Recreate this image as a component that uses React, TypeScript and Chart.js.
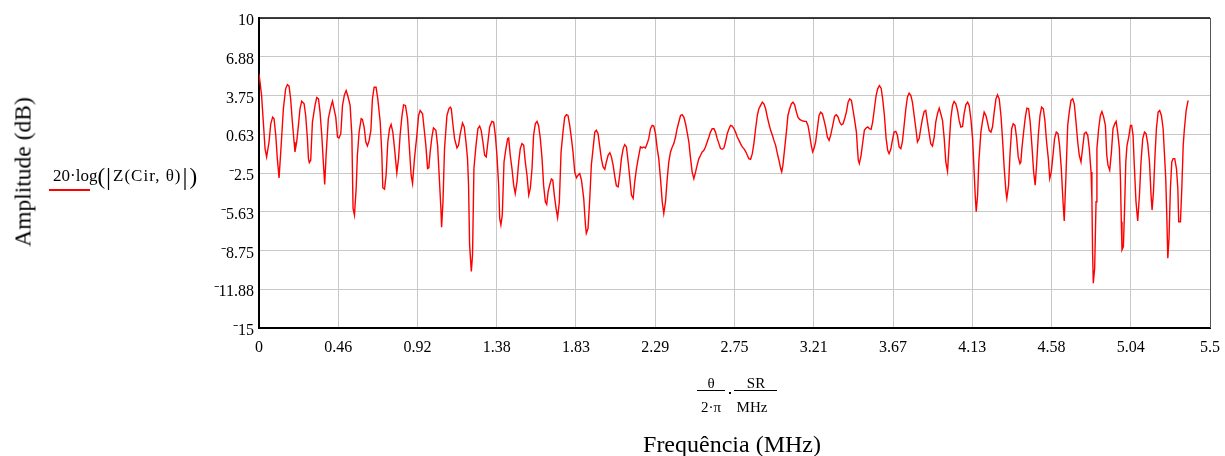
import React, { useEffect, useRef } from "react";
import { Chart, registerables } from "chart.js";

Chart.register(...registerables);

// Frequency (MHz) of each sample
const freqs = [
  0.0, 0.015, 0.025, 0.035, 0.044, 0.058, 0.068, 0.079, 0.087, 0.097, 0.106, 0.116, 0.127, 0.141, 0.154, 0.164, 0.174, 0.183, 0.193, 0.203,
  0.208, 0.218, 0.228, 0.237, 0.247, 0.261, 0.27, 0.28, 0.286, 0.291, 0.299, 0.309, 0.324, 0.334, 0.344, 0.353, 0.363, 0.372, 0.38, 0.388,
  0.401, 0.415, 0.425, 0.434, 0.444, 0.454, 0.463, 0.473, 0.483, 0.494, 0.504, 0.513, 0.527, 0.537, 0.544, 0.552,
  0.562, 0.569, 0.579, 0.591, 0.598, 0.608, 0.618, 0.627, 0.637, 0.647, 0.656, 0.666, 0.677, 0.687, 0.701, 0.71, 0.716, 0.726, 0.735, 0.745,
  0.755, 0.764, 0.774, 0.784, 0.797, 0.807, 0.816, 0.826, 0.836, 0.847, 0.859, 0.87, 0.88, 0.888, 0.899, 0.913, 0.923, 0.932, 0.946, 0.955,
  0.965, 0.975, 0.982, 0.99, 1.0, 1.009, 1.023, 1.033, 1.042, 1.052, 1.056, 1.064, 1.073, 1.087, 1.098, 1.106,
  1.112, 1.121, 1.131, 1.145, 1.154, 1.164, 1.177, 1.187, 1.197, 1.206, 1.212, 1.218, 1.228, 1.235, 1.243, 1.255, 1.266, 1.276, 1.285, 1.295,
  1.305, 1.314, 1.324, 1.334, 1.347, 1.357, 1.367, 1.376, 1.386, 1.392, 1.399, 1.407, 1.417, 1.428, 1.438, 1.444, 1.453, 1.463, 1.473, 1.482,
  1.492, 1.502, 1.511, 1.521, 1.531, 1.54, 1.55, 1.56, 1.569, 1.579, 1.588, 1.598, 1.608, 1.617, 1.627, 1.637, 1.646, 1.656,
  1.664, 1.672, 1.681, 1.691, 1.699, 1.708, 1.718, 1.727, 1.737, 1.747, 1.758, 1.768, 1.778, 1.787, 1.797, 1.807, 1.816, 1.826, 1.836, 1.845,
  1.855, 1.865, 1.878, 1.888, 1.893, 1.903, 1.913, 1.922, 1.932, 1.942, 1.951, 1.961, 1.971, 1.98, 1.99, 2.0, 2.009, 2.019, 2.029, 2.038,
  2.048, 2.058, 2.067, 2.077, 2.086, 2.096, 2.106, 2.115, 2.125, 2.135, 2.144, 2.154, 2.164, 2.173, 2.183, 2.193, 2.202,
  2.206, 2.216, 2.225, 2.235, 2.245, 2.254, 2.264, 2.274, 2.283, 2.293, 2.303, 2.312, 2.322, 2.332, 2.341, 2.351, 2.361, 2.37, 2.38, 2.39,
  2.399, 2.409, 2.418, 2.428, 2.438, 2.447, 2.457, 2.467, 2.476, 2.486, 2.496, 2.505, 2.515, 2.525, 2.534, 2.544, 2.554, 2.563, 2.573, 2.582,
  2.592, 2.602, 2.611, 2.621, 2.631, 2.64, 2.65, 2.66, 2.669, 2.679, 2.689, 2.698, 2.708, 2.718, 2.727, 2.737, 2.747, 2.756,
  2.766, 2.776, 2.785, 2.795, 2.804, 2.814, 2.824, 2.833, 2.843, 2.853, 2.862, 2.872, 2.882, 2.891, 2.901, 2.911, 2.92, 2.93, 2.94, 2.949,
  2.959, 2.969, 2.978, 2.988, 2.998, 3.007, 3.017, 3.023, 3.03, 3.04, 3.05, 3.059, 3.069, 3.079, 3.088, 3.098, 3.108, 3.117, 3.127, 3.137,
  3.146, 3.156, 3.165, 3.175, 3.185, 3.194, 3.202, 3.21, 3.219, 3.229, 3.239, 3.248, 3.258, 3.268, 3.277, 3.287, 3.297, 3.306,
  3.32, 3.329, 3.339, 3.349, 3.358, 3.368, 3.378, 3.387, 3.397, 3.407, 3.416, 3.426, 3.436, 3.445, 3.455, 3.461, 3.466, 3.472, 3.482, 3.492,
  3.501, 3.511, 3.521, 3.53, 3.54, 3.549, 3.559, 3.569, 3.578, 3.588, 3.598, 3.607, 3.617, 3.627, 3.636, 3.644, 3.654, 3.663, 3.673, 3.683,
  3.692, 3.702, 3.712, 3.721, 3.731, 3.741, 3.75, 3.76, 3.77, 3.779, 3.789, 3.799, 3.808, 3.818, 3.827, 3.837, 3.847, 3.856,
  3.866, 3.876, 3.885, 3.895, 3.905, 3.914, 3.924, 3.934, 3.943, 3.953, 3.963, 3.972, 3.982, 3.991, 4.001, 4.011, 4.02, 4.03, 4.04, 4.049,
  4.059, 4.069, 4.078, 4.088, 4.098, 4.107, 4.117, 4.127, 4.136, 4.142, 4.148, 4.156, 4.163, 4.175, 4.185, 4.194, 4.204, 4.213, 4.223, 4.233,
  4.242, 4.252, 4.262, 4.271, 4.281, 4.291, 4.3, 4.31, 4.32, 4.325, 4.335, 4.343, 4.353, 4.362, 4.372, 4.381, 4.391, 4.401, 4.406,
  4.412, 4.422, 4.432, 4.441, 4.451, 4.46, 4.47, 4.48, 4.489, 4.497, 4.507, 4.517, 4.526, 4.536, 4.545, 4.555, 4.565, 4.573, 4.582, 4.592,
  4.601, 4.611, 4.621, 4.63, 4.64, 4.65, 4.657, 4.667, 4.677, 4.686, 4.696, 4.706, 4.715, 4.725, 4.735, 4.744, 4.754, 4.764, 4.773, 4.783,
  4.793, 4.802, 4.812, 4.817, 4.821, 4.825, 4.833, 4.841, 4.846, 4.856, 4.866, 4.875, 4.885, 4.895, 4.903, 4.91, 4.92, 4.93, 4.939, 4.949, 4.957,
  4.966, 4.976, 4.982, 4.987, 4.991, 4.999, 5.005, 5.013, 5.02, 5.03, 5.04, 5.047, 5.055, 5.063, 5.072, 5.082, 5.092, 5.101, 5.111, 5.121,
  5.13, 5.14, 5.15, 5.159, 5.165, 5.173, 5.182, 5.19, 5.2, 5.209, 5.219, 5.229, 5.236, 5.244, 5.25, 5.256, 5.263, 5.271, 5.279, 5.287,
  5.296, 5.306, 5.314, 5.319, 5.329, 5.337, 5.345, 5.352, 5.362, 5.372, 5.375,
];

// Amplitude (dB) of each sample: 20·log(|Z(Cir, θ)|)
const amps = [
  5.49, 3.75, 1.61, -0.53, -1.2, 0.0, 1.47, 2.01, 1.88, 0.54, -1.34, -2.89, -0.53, 2.68, 4.29, 4.63, 4.5, 3.48, 1.61, 0.0,
  -0.8, 0.0, 1.34, 2.68, 3.29, 3.08, 2.14, 0.27, -1.34, -1.66, -1.47, 1.61, 2.95, 3.59, 3.48, 2.41, 0.54, -1.61, -3.43, -1.07,
  1.88, 2.81, 3.29, 2.68, 2.01, 0.4, 0.32, 0.67, 2.95, 3.8, 4.15, 3.75, 2.95, 0.54, -5.36, -5.89,
  -3.75, -1.07, 0.8, 1.88, 1.82, 1.21, 0.0, -0.32, 0.13, 0.94, 3.48, 4.42, 4.42, 3.48, 1.61, -0.8, -3.69, -3.8, -2.68, 0.0,
  1.07, 1.42, 0.8, -0.53, -2.49, -1.34, 0.54, 2.01, 3.0, 2.95, 1.88, -0.53, -2.68, -3.35, -1.34, 0.54, 2.14, 2.54, 2.28, 1.07,
  -0.27, -2.14, -2.09, -0.8, 0.4, 1.13, 0.94, -0.27, -2.68, -5.36, -6.88, -4.82, -0.53, 2.14, 2.68, 2.81,
  2.68, 1.47, 0.27, -0.48, -0.27, 0.67, 1.53, 1.21, 0.0, -1.34, -3.48, -8.3, -10.44, -9.1, -2.14, -0.27, 1.07, 1.29, 0.94, 0.0,
  -1.07, -1.2, 0.0, 1.21, 1.66, 1.61, 0.54, -1.07, -3.48, -6.16, -6.69, -5.89, -1.61, -0.53, 0.27, 0.32, -1.07, -2.14, -3.48, -4.15,
  -3.21, -1.61, -0.53, -0.13, -0.27, -1.61, -2.68, -4.28, -3.75, -2.14, 0.54, 1.47, 1.66, 1.34, 0.27, -1.34, -3.48, -4.82,
  -5.03, -4.02, -3.48, -2.99, -3.08, -4.28, -5.36, -6.1, -4.82, -0.8, 0.8, 2.01, 2.2, 2.14, 1.34, 0.27, -0.8, -2.41, -2.89, -2.68,
  -2.54, -3.08, -4.55, -6.69, -7.36, -6.96, -4.55, -1.87, -0.53, 0.8, 0.94, 0.67, -0.4, -1.34, -2.01, -2.2, -1.61, -1.07, -0.86, -1.2,
  -1.87, -2.81, -3.53, -3.61, -2.68, -1.34, -0.53, -0.21, -0.4, -1.61, -2.81, -4.28, -4.55, -3.21, -2.14, -1.34, -0.67,
  -0.4, -0.48, -0.4, -0.48, -0.13, 0.27, 1.07, 1.34, 1.29, 0.67, -0.53, -1.34, -2.95, -4.82, -5.76, -4.82, -2.95, -1.61, -0.8, -0.4,
  -0.13, 0.4, 1.07, 1.61, 2.14, 2.2, 2.01, 1.47, 0.8, 0.0, -1.34, -2.41, -2.95, -2.41, -1.87, -1.34, -1.07, -0.8, -0.67, -0.4,
  0.0, 0.4, 0.8, 1.07, 1.07, 0.8, 0.27, -0.13, -0.53, -0.59, -0.48, 0.0, 0.67, 1.07, 1.34, 1.29, 1.07, 0.8,
  0.4, 0.13, -0.13, -0.4, -0.53, -0.75, -1.07, -1.34, -1.39, -0.94, -0.13, 1.07, 2.14, 2.68, 2.95, 3.21, 3.08, 2.68, 2.01, 1.47,
  0.94, 0.54, 0.13, -0.27, -0.94, -1.47, -2.14, -2.41, -1.87, -0.53, 0.8, 2.14, 2.68, 3.08, 3.21, 3.0, 2.41, 2.01, 1.82, 1.74,
  1.69, 1.66, 1.66, 1.34, 0.54, -0.27, -0.8, -0.53, 0.0, 1.07, 2.14, 2.41, 2.28, 1.74, 1.21, 0.4, 0.13, 0.54,
  1.47, 2.09, 2.2, 2.01, 1.61, 1.39, 1.47, 1.88, 2.41, 3.21, 3.48, 3.35, 2.54, 1.74, 0.8, -0.53, -1.47, -1.74, -1.07, 0.0,
  0.94, 1.13, 1.21, 1.07, 1.02, 1.61, 2.68, 3.75, 4.29, 4.55, 4.34, 3.48, 2.14, 0.27, -0.67, -0.94, -0.59, 0.13, 0.8, 0.86,
  0.54, -0.4, -0.53, 0.0, 1.34, 2.68, 3.62, 3.94, 3.75, 3.21, 2.14, 1.07, 0.0, 0.27, 1.07, 1.88, 2.46, 2.54,
  1.61, 0.67, -0.13, -0.32, 0.4, 1.61, 2.28, 2.73, 2.28, 1.74, 0.27, -1.61, -2.36, -0.27, 1.88, 2.95, 3.27, 3.08, 2.54, 1.74,
  1.21, 1.26, 2.28, 3.0, 3.21, 2.95, 1.88, 0.27, -2.41, -4.28, -5.62, -4.28, -1.61, 0.8, 1.74, 2.41, 2.14, 1.61, 0.94, 0.8,
  1.21, 2.41, 3.48, 3.8, 3.48, 2.14, 0.27, -2.14, -4.02, -4.55, -3.48, -1.07, 1.07, 1.47, 1.34, 0.4, -1.2, -1.74, -1.61,
  -0.53, 0.8, 2.01, 2.73, 2.68, 1.61, -0.27, -2.41, -3.48, -1.87, 0.54, 2.14, 2.81, 2.68, 1.74, 0.0, -1.34, -2.95, -2.41, -1.07,
  0.27, 0.8, 0.67, -0.27, -2.14, -4.82, -6.37, -2.68, 1.34, 2.41, 3.35, 3.48, 3.08, 1.61, 0.0, -1.07, -1.61, -0.4, 0.67, 0.8,
  0.54, -0.53, -2.41, -4.6, -8.9, -11.38, -10.18, -4.82, -0.53, 1.07, 2.14, 2.46, 2.01, 1.34, -1.07, -1.87, -2.28, -0.8, 1.07, 1.47, 1.66,
  0.8, -0.53, -2.95, -6.43, -8.7, -8.44, -5.89, -1.61, -0.27, 0.4, 1.34, 1.34, 0.54, -2.14, -4.82, -6.37, -4.28, -1.61, 0.27, 0.8,
  0.67, -0.13, -1.61, -4.28, -5.49, -4.02, -1.07, 1.07, 2.41, 2.54, 2.14, 1.07, -0.8, -2.95, -5.89, -9.37, -7.76, -3.75, -1.61, -1.34,
  -1.34, -2.14, -3.75, -6.43, -6.43, -3.75, -0.27, 1.07, 2.54, 3.27, 3.35,
];

const xTickValues = [0, 0.45833, 0.91667, 1.375, 1.83333, 2.29167, 2.75, 3.20833, 3.66667, 4.125, 4.58333, 5.04167, 5.5];
const xTickLabels = ["0", "0.46", "0.92", "1.38", "1.83", "2.29", "2.75", "3.21", "3.67", "4.13", "4.58", "5.04", "5.5"];
const yTickValues = [-15, -11.875, -8.75, -5.625, -2.5, 0.625, 3.75, 6.875, 10];
const yTickLabels = ["\u207B15", "\u207B11.88", "\u207B8.75", "\u207B5.63", "\u207B2.5", "0.63", "3.75", "6.88", "10"];

const SERIF = "'Liberation Serif', 'Times New Roman', serif";

const framePlugin = {
  id: "frame",
  afterDraw(chart: any) {
    const { ctx, chartArea: a } = chart;
    ctx.save();
    ctx.strokeStyle = "#000";
    ctx.lineWidth = 1.5;
    ctx.beginPath();
    ctx.moveTo(a.left, a.top);
    ctx.lineTo(a.right, a.top);
    ctx.stroke();
    ctx.strokeStyle = "#555";
    ctx.lineWidth = 1;
    ctx.beginPath();
    ctx.moveTo(a.right + 0.5, a.top);
    ctx.lineTo(a.right + 0.5, a.bottom);
    ctx.stroke();
    ctx.restore();
  },
};

export default function App() {
  const canvasRef = useRef<HTMLCanvasElement | null>(null);

  useEffect(() => {
    const canvas = canvasRef.current;
    if (!canvas) return;
    const points = freqs.map((f, i) => ({ x: f, y: amps[i] }));
    const chart = new Chart(canvas, {
      type: "line",
      data: {
        datasets: [
          {
            label: "20·log(|Z(Cir, θ)|)",
            data: points,
            borderColor: "#ff0000",
            borderWidth: 1.4,
            pointRadius: 0,
            tension: 0,
            fill: false,
          },
        ],
      },
      options: {
        animation: false,
        responsive: false,
        devicePixelRatio: 1,
        layout: { padding: { left: 0, top: 18, right: 15, bottom: 0 } },
        plugins: { legend: { display: false }, tooltip: { enabled: false } },
        scales: {
          x: {
            type: "linear",
            min: 0,
            max: 5.5,
            afterBuildTicks: (s: any) => {
              s.ticks = xTickValues.map((v) => ({ value: v }));
            },
            afterFit: (s: any) => {
              s.height = 128;
              s.paddingLeft = 0;
              s.paddingRight = 0;
            },
            ticks: {
              callback: (_v: any, i: number) => xTickLabels[i],
              font: { family: SERIF, size: 16 },
              color: "#000",
              padding: 10,
              maxRotation: 0,
              autoSkip: false,
            },
            grid: { color: "#c8c8c8", lineWidth: 1, drawTicks: false },
            border: { display: true, color: "#000", width: 2 },
          },
          y: {
            type: "linear",
            min: -15,
            max: 10,
            afterBuildTicks: (s: any) => {
              s.ticks = yTickValues.map((v) => ({ value: v }));
            },
            afterFit: (s: any) => {
              s.width = 259;
              s.paddingTop = 0;
              s.paddingBottom = 0;
            },
            ticks: {
              callback: (_v: any, i: number) => yTickLabels[i],
              font: { family: SERIF, size: 16 },
              color: "#000",
              padding: 5,
              labelOffset: 3,
              autoSkip: false,
            },
            grid: { color: "#c8c8c8", lineWidth: 1, drawTicks: false },
            border: { display: true, color: "#000", width: 2 },
          },
        },
      },
      plugins: [framePlugin],
    });
    return () => chart.destroy();
  }, []);

  const abs: React.CSSProperties = { position: "absolute", whiteSpace: "nowrap", fontFamily: SERIF, color: "#000" };

  return (
    <div style={{ position: "absolute", left: 0, top: 0, width: 1225, height: 456, background: "#fff" }}>
      <canvas ref={canvasRef} width={1225} height={456} style={{ position: "absolute", left: 0, top: 0, width: 1225, height: 456 }} />
      {/* Y axis title */}
      <div style={{ ...abs, left: 23, top: 172, fontSize: 23.5, transform: "translate(-50%, -50%) rotate(-90deg)" }}>
        Amplitude (dB)
      </div>
      {/* Trace legend */}
      <div style={{ ...abs, left: 53, top: 162, height: 28, display: "flex", alignItems: "center", fontSize: 17 }}>
        <span>20·log</span>
        <span style={{ fontSize: 23, lineHeight: 1 }}>(</span>
        <span style={{ fontSize: 25, lineHeight: 1, marginLeft: 1, marginRight: 2 }}>|</span>
        <span style={{ letterSpacing: 1 }}>Z(Cir, θ)</span>
        <span style={{ fontSize: 25, lineHeight: 1, marginLeft: 1, marginRight: 2 }}>|</span>
        <span style={{ fontSize: 23, lineHeight: 1 }}>)</span>
      </div>
      <div style={{ position: "absolute", left: 49, top: 189, width: 41, height: 1.5, background: "#ff0000" }} />
      {/* X axis expression */}
      <div style={{ ...abs, left: 711, top: 383, fontSize: 15, transform: "translate(-50%, -50%)" }}>θ</div>
      <div style={{ ...abs, left: 756, top: 383, fontSize: 15, transform: "translate(-50%, -50%)" }}>SR</div>
      <div style={{ position: "absolute", left: 697, top: 390, width: 28, height: 1, background: "#000" }} />
      <div style={{ position: "absolute", left: 734, top: 390, width: 43, height: 1, background: "#000" }} />
      <div style={{ position: "absolute", left: 729, top: 392, width: 2, height: 2, background: "#000" }} />
      <div style={{ ...abs, left: 711, top: 407, fontSize: 15, transform: "translate(-50%, -50%)" }}>2·π</div>
      <div style={{ ...abs, left: 752, top: 407, fontSize: 15, transform: "translate(-50%, -50%)" }}>MHz</div>
      {/* X axis title */}
      <div style={{ ...abs, left: 732, top: 444, fontSize: 24, transform: "translate(-50%, -50%)" }}>
        Frequência (MHz)
      </div>
    </div>
  );
}
